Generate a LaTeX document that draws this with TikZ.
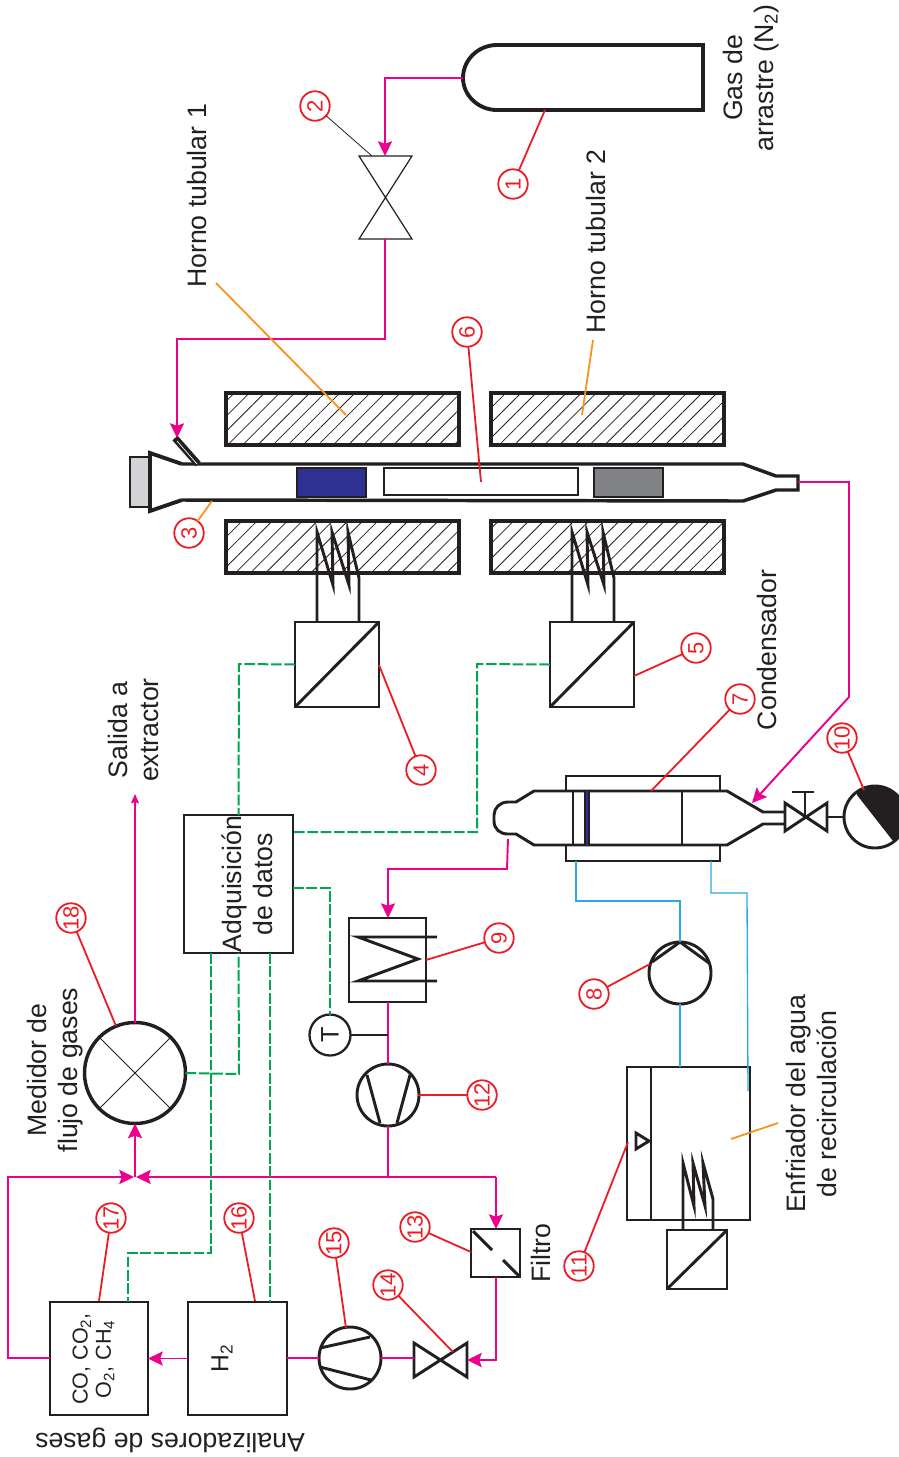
\documentclass[tikz,border=0pt]{standalone}
\usepackage{fontspec}
\setmainfont{Liberation Sans}
\usetikzlibrary{arrows.meta,patterns.meta,calc}
\definecolor{ink}{HTML}{231F20}
\definecolor{pinkc}{HTML}{EC008C}
\definecolor{redc}{HTML}{ED1C24}
\definecolor{greenc}{HTML}{00A651}
\definecolor{orangec}{HTML}{F7941D}
\definecolor{bluec}{HTML}{29ABE2}
\definecolor{navyc}{HTML}{2E3192}
\definecolor{greyc}{HTML}{808285}
\definecolor{capc}{HTML}{D1D3D4}
\tikzset{
  bx/.style n args={2}{draw=ink,line width=2.05pt,minimum width=#1*0.75pt,minimum height=#2*0.75pt,inner sep=0pt,outer sep=0pt},
  furn/.style={draw=ink,line width=2.8pt,minimum width=233*0.75pt,minimum height=52*0.75pt,inner sep=0pt,outer sep=0pt,
    pattern={Lines[angle=45,distance=8pt,line width=0.6pt]},pattern color=ink},
  rnd/.style={circle,draw=ink,line width=2.2pt,minimum size=#1*0.75pt,inner sep=0pt,outer sep=0pt},
  lab/.style={circle,draw=redc,line width=1.35pt,minimum size=29.5*0.75pt,inner sep=0pt,outer sep=0pt,rotate=90,text=redc,
    font=\fontsize{16.5pt}{17pt}\selectfont},
  txt/.style={rotate=90,align=center,text=ink,inner sep=0pt,font=\fontsize{20pt}{23.25pt}\selectfont},
  inkl/.style={draw=ink,line width=2.2pt,miter limit=20},
  thinl/.style={draw=ink,line width=0.7pt},
  pipe/.style={draw=pinkc,line width=1.45pt},
  flow/.style={pipe,-{Stealth[length=11pt,width=10.5pt,inset=1.8pt]}},
  signal/.style={draw=greenc,line width=1.5pt,dash pattern=on 8pt off 2pt},
  water/.style={draw=bluec,line width=1pt},
  leader/.style={draw=redc,line width=1.35pt},
  oleader/.style={draw=orangec,line width=1.35pt},
}
\begin{document}
\begin{tikzpicture}[x=0.75pt,y=-0.75pt]
\useasboundingbox (0,0) rectangle (899,1457);

% --- furnaces
\node[furn] (f1) at (342.5,419) {};
\node[furn] (f2) at (342.5,547) {};
\node[furn] (f3) at (607.5,419) {};
\node[furn] (f4) at (607.5,547) {};

% --- cylinder
\coordinate (cyl) at (463,78);
\draw[ink,line width=2.9pt,miter limit=10] (497,45) .. controls (478,45) and (463,60) .. (463,78) .. controls (463,95) and (478,110) .. (497,110) -- (703,110) -- (703,45) -- cycle;

% --- valve 2
\coordinate (v2t) at (385,156);
\coordinate (v2b) at (385,239);
\draw[thinl,line width=0.9pt] (359,156) -- (412,156) -- (359,239) -- (412,239) -- cycle;

% --- reactor tube
\node[bx={20}{50},fill=capc,line width=1.8pt] (cap) at (140,482) {};
\draw[ink,line width=2.9pt,miter limit=10] (182,464) -- (150,453) -- (150,511) -- (182,500);
\draw[ink,line width=2.6pt,miter limit=10] (182,464) -- (743,464) -- (776,476) -- (798,476) -- (798,490) -- (776,490) -- (743,501) -- (182,500);
\draw[ink,line width=5.2pt] (175,438) -- (198,464);
\draw[white,line width=0.5pt] (177,441) -- (197,464);
\node[bx={69}{29},fill=navyc,line width=1.4pt] (sb) at (331.5,482.5) {};
\node[bx={194}{27},fill=white,line width=1.5pt] (sh) at (481,481.5) {};
\node[bx={69}{29},fill=greyc,line width=1.4pt] (sg) at (628.5,482.5) {};

% --- heaters and converters
\draw[inkl] (317,621) -- (317,532) -- (333,585) -- (332,532) -- (349,585) -- (348,532) -- (359,578) -- (359,621);
\draw[inkl] (572,621) -- (572,532) -- (588,585) -- (587,532) -- (604,585) -- (603,532) -- (614,578) -- (614,621);
\node[bx={84}{85}] (c4) at (337,664.5) {};
\node[bx={84}{85}] (c5) at (592,664.5) {};
\draw[inkl] (c4.south west) -- (c4.north east);
\draw[inkl] (c5.south west) -- (c5.north east);

% --- data box
\node[bx={109}{138}] (dat) at (238.5,884) {};
\node[txt] (dattxt) at (247.5,884) {Adquisición\\de datos};

% --- flow meter
\node[rnd=101,line width=2.6pt] (med) at (135,1073) {};
\draw[thinl] (med.north west) -- (med.south east);
\draw[thinl] (med.south west) -- (med.north east);

% --- condenser
\draw[inkl] (566,791) -- (566,776) -- (720,776) -- (720,791);
\draw[inkl] (566,845) -- (566,861) -- (720,861) -- (720,845);
\draw[inkl] (785,812) -- (763,812) -- (727,791) -- (534,791) -- (516,802) -- (508,802) .. controls (500,802) and (494,808) .. (494,815) -- (494,821) .. controls (494,829) and (500,834) .. (508,834) -- (516,834) -- (534,845) -- (727,845) -- (763,824) -- (785,824);
\draw[inkl] (573,791) -- (573,845);
\draw[inkl] (682,791) -- (682,845);
\draw[ink,line width=4.8pt] (587,791) -- (587,845);
\draw[navyc,line width=1.3pt] (587,791) -- (587,845);

% --- valve + motor 10
\coordinate (v10r) at (827,817);
\coordinate (v10c) at (805,817);
\coordinate (v10s) at (805,792);
\draw[inkl] (785,803) -- (827,831) -- (827,803) -- (785,831) -- cycle;
\draw[inkl] (v10c) -- (v10s);
\draw[inkl] (792,792) -- (814,792);
\begin{scope}
  \clip (875,817) circle (31);
  \fill[ink] (857,795) -- (893,841) -- (915,841) -- (915,780) -- (857,780) -- cycle;
\end{scope}
\node[rnd=62] (m10) at (875,817) {};
\draw[inkl] (v10r) -- (m10.west);

% --- heat exchanger 9
\node[bx={77}{84}] (hx) at (387.5,960) {};
\draw[inkl] (437,937) -- (358,937) -- (418,959) -- (358,981) -- (437,981);

% --- T, pump 12
\node[rnd=41,line width=1.7pt,text=ink,font=\fontsize{19pt}{20pt}\selectfont] (tt) at (330,1035) {\rotatebox{90}{T}};
\node[rnd=62] (p12) at (388,1095) {};
\draw[inkl] (367,1075) -- (380,1123);
\draw[inkl] (410,1075) -- (397,1123);

% --- pump 8
\node[rnd=62] (p8) at (680,973) {};
\draw[inkl] (652,962) -- (p8.north) -- (709,963);

% --- chiller
\node[bx={123}{153}] (ch) at (688.5,1143.5) {};
\draw[inkl] (651,1067) -- (651,1220);
\draw[inkl] (636,1133) -- (649,1141) -- (636,1149) -- cycle;
\draw[inkl] (683,1229) -- (683,1163) -- (694,1206) -- (693,1163) -- (705,1206) -- (703,1163) -- (713,1199) -- (713,1229);
\node[bx={60}{59}] (c11) at (697,1259.5) {};
\draw[inkl] (c11.south west) -- (c11.north east);

% --- filter, valve 14, pump 15
\node[bx={49}{48}] (flt) at (495.5,1253) {};
\draw[inkl] (473,1231) -- (492,1250);
\draw[inkl] (503,1260) -- (519,1276);
\draw[inkl] (414,1343) -- (467,1377) -- (467,1343) -- (414,1377) -- cycle;
\node[rnd=62] (p15) at (350,1358) {};
\draw[inkl] (320,1348) -- (370,1337);
\draw[inkl] (320,1367) -- (371,1380);

% --- analysers
\node[bx={99}{113}] (h2) at (237.5,1358.5) {};
\node[bx={98}{113}] (co) at (99,1358.5) {};
\node[rotate=90,text=ink,inner sep=0pt,font=\fontsize{18.5pt}{18.5pt}\selectfont] (h2txt) at (222,1358) {H\textsubscript{2}};
\node[rotate=90,align=center,text=ink,inner sep=0pt,font=\fontsize{16.2pt}{17.5pt}\selectfont] (cotxt) at (93.5,1359) {CO, CO\textsubscript{2},\\O\textsubscript{2}, CH\textsubscript{4}};

% --- pink pipes
\coordinate (a1) at (385,78);
\draw[flow] (cyl) -- (a1) -- (v2t);
\coordinate (a2) at (385,339);
\coordinate (a3) at (177,339);
\coordinate (a4) at (177,438);
\draw[flow] (v2b) -- (a2) -- (a3) -- (a4);
\coordinate (b0) at (798,482);
\coordinate (b1) at (849,482);
\coordinate (b2) at (849,697);
\coordinate (b3) at (752,803);
\draw[flow] (b0) -- (b1) -- (b2) -- (b3);
\coordinate (d0) at (508,839);
\coordinate (d1) at (507,869);
\coordinate (d2) at (388,869);
\draw[flow] (d0) -- (d1) -- (d2) -- (hx.north -| d2);
\coordinate (j0) at (388,1177);
\draw[pipe] (hx.south -| p12) -- (p12.north);
\draw[pipe] (p12.south) -- (j0);
\coordinate (j1) at (496,1177);
\coordinate (j2) at (135,1177);
\coordinate (j3) at (8,1177);
\coordinate (j4) at (8,1358);
\draw[flow] (j1) -- ($(j2)+(1,0)$);
\draw[flow] (co.west |- j4) -- (j4) -- (j3) -- ($(j2)+(-1,0)$);
\draw[flow] (j2) -- (med.south);
\coordinate (sal) at (135,794);
\draw[pinkc,line width=0.8pt,-{Stealth[length=7pt,width=6pt,inset=1pt]}] (med.north) -- (sal);
\draw[flow] (j1) -- (flt.north -| j1);
\coordinate (k1) at (496,1360);
\coordinate (k2) at (467,1360);
\draw[flow] (flt.south -| k1) -- (k1) -- (k2);
\coordinate (k3) at (414,1358);
\draw[pipe] (k3) -- (p15.east);
\draw[pipe] (p15.west) -- (h2.east |- p15.west);
\draw[flow] (h2.west) -- (co.east);

% --- T stem
\coordinate (tj) at (388,1035);
\draw[ink,line width=1.3pt] (tt.east) -- (tj);

% --- signals
\coordinate (g1) at (239,664);
\draw[signal] (c4.west) -- (g1) -- (dat.north);
\coordinate (g2) at (477,664);
\coordinate (g3) at (477,832);
\draw[signal] (c5.west) -- (g2) -- (g3) -- (dat.east |- g3);
\coordinate (g4) at (330,888);
\draw[signal] (dat.east |- g4) -- (g4) -- (tt.north);
\coordinate (g5) at (239,1074);
\draw[signal] (med.east) -- (g5) -- (dat.south);
\coordinate (g6) at (211,1253);
\coordinate (g7) at (128,1253);
\draw[signal] (dat.south -| g6) -- (g6) -- (g7) -- (co.north -| g7);
\coordinate (g8) at (270,1302);
\draw[signal] (dat.south -| g8) -- (g8);

% --- water
\coordinate (w1) at (680,901);
\coordinate (w2) at (576,901);
\coordinate (w3) at (576,861);
\draw[water] (p8.north) -- (w1) -- (w2) -- (w3);
\coordinate (w4) at (711,861);
\coordinate (w5) at (711,893);
\coordinate (w6) at (747,893);
\coordinate (w7) at (748,1091);
\draw[water] (w4) -- (w5) -- (w6) -- (w7);
\coordinate (w8) at (680,1067);
\draw[water] (p8.south) -- (w8);

% --- number labels and leaders
\node[lab] (n1) at (513,184) {1};
\node[lab] (n2) at (315,106) {2};
\node[lab] (n3) at (189,533) {3};
\node[lab] (n4) at (421,770) {4};
\node[lab] (n5) at (696,648) {5};
\node[lab] (n6) at (467,332) {6};
\node[lab] (n7) at (740,699) {7};
\node[lab] (n8) at (594,994) {8};
\node[lab] (n9) at (499,938) {9};
\node[lab] (n10) at (842,738) {10};
\node[lab] (n11) at (579,1266) {11};
\node[lab] (n12) at (482,1095) {12};
\node[lab] (n13) at (415,1227) {13};
\node[lab] (n14) at (388,1285) {14};
\node[lab] (n15) at (334,1243) {15};
\node[lab] (n16) at (239,1218) {16};
\node[lab] (n17) at (111,1218) {17};
\node[lab] (n18) at (71,918) {18};
\coordinate (t1) at (545,110);
\coordinate (t2) at (372,156);
\coordinate (t3) at (212,501);
\coordinate (t4) at (379,665);
\coordinate (t5) at (634,676);
\coordinate (t6) at (481,482);
\coordinate (t7) at (651,791);
\coordinate (t8) at (650,964);
\coordinate (t9) at (426,960);
\coordinate (t10) at (864,790);
\coordinate (t11) at (628,1142);
\coordinate (t12) at (418,1095);
\coordinate (t13) at (471,1252);
\coordinate (t14) at (453,1352);
\coordinate (t15) at (346,1328);
\coordinate (t16) at (255,1301);
\coordinate (t17) at (99,1301);
\coordinate (t18) at (116,1026);
\draw[leader] (n1) -- (t1);
\draw[ink,line width=0.6pt] (n2) -- (t2);
\draw[oleader] (n3) -- (t3);
\draw[leader] (n4) -- (t4);
\draw[leader] (n5) -- (t5);
\draw[leader] (n6) -- (t6);
\draw[leader] (n7) -- (t7);
\draw[leader] (n8) -- (t8);
\draw[leader] (n9) -- (t9);
\draw[leader] (n10) -- (t10);
\draw[leader] (n11) -- (t11);
\draw[leader] (n12) -- (t12);
\draw[leader] (n13) -- (t13);
\draw[leader] (n14) -- (t14);
\draw[leader] (n15) -- (t15);
\draw[leader] (n16) -- (t16);
\draw[leader] (n17) -- (t17);
\draw[leader] (n18) -- (t18);

% --- text labels and their orange leaders
\node[txt] (tf1) at (197,196) {Horno tubular 1};
\node[txt] (tf2) at (596,241.5) {Horno tubular 2};
\coordinate (of1a) at (216,283);
\coordinate (of1b) at (346,415);
\draw[oleader] (of1a) -- (of1b);
\coordinate (of2a) at (593,340);
\coordinate (of2b) at (582,415);
\draw[oleader] (of2a) -- (of2b);
\node[txt] (tgas) at (751,78) {Gas de\\arrastre (N\textsubscript{2})};
\node[txt] (tsal) at (133,730) {Salida a\\extractor};
\node[txt] (tcond) at (767,650) {Condensador};
\node[txt] (tmed) at (55,1070) {Medidor de\\flujo de gases};
\node[txt] (tfil) at (541,1253) {Filtro};
\node[txt] (tenf) at (811,1104) {Enfriador del agua\\de recirculación};
\coordinate (oca) at (731,1139);
\coordinate (ocb) at (778,1123);
\draw[oleader] (oca) -- (ocb);
\node[txt,rotate=90,font=\fontsize{20pt}{22pt}\selectfont] (tana) at (170,1440) {Analizadores de gases};
\end{tikzpicture}
\end{document}
